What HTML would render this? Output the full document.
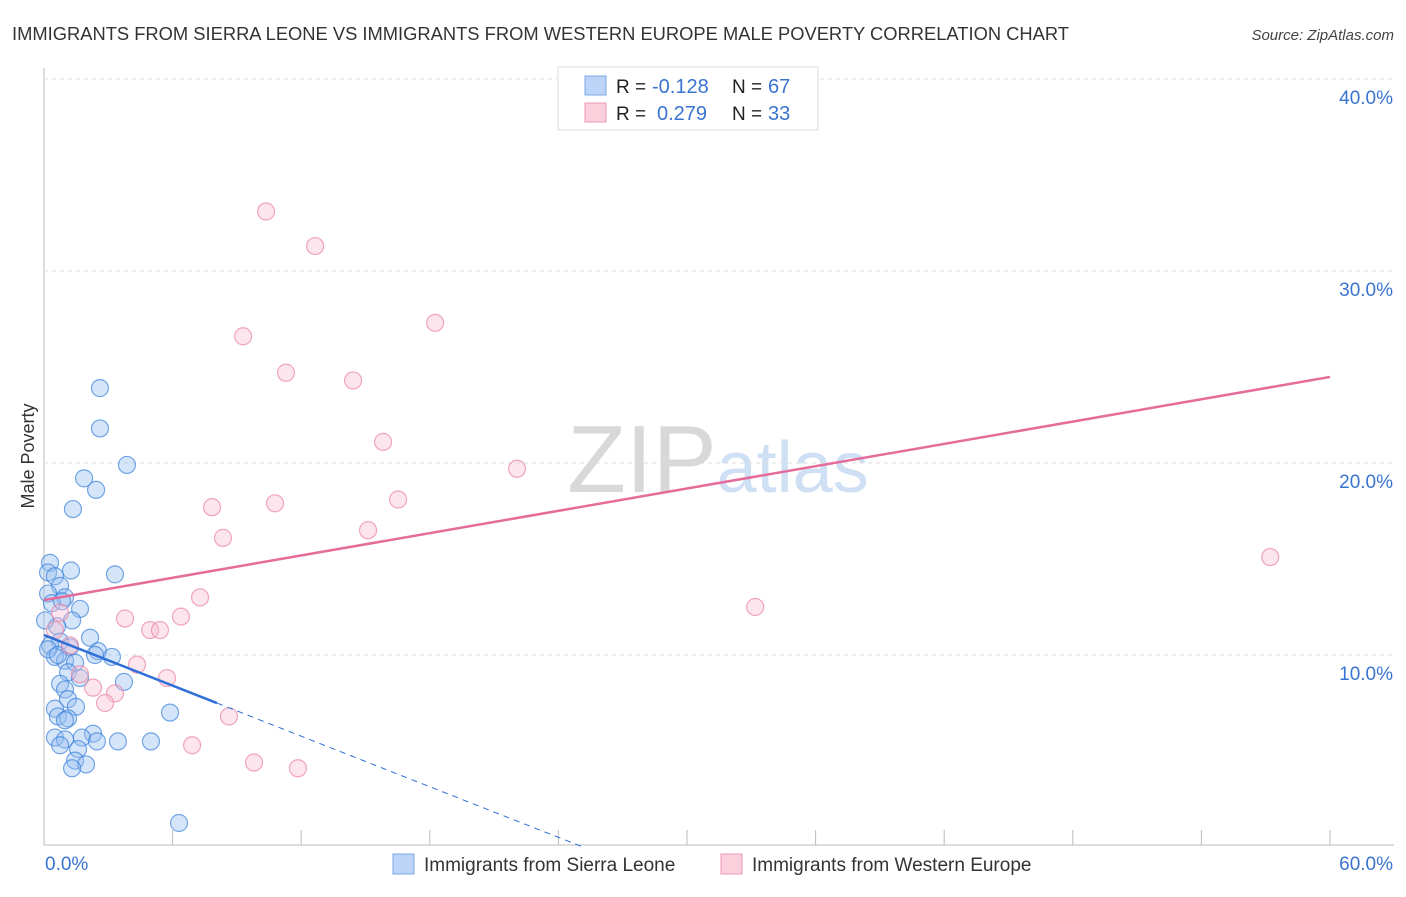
<!DOCTYPE html>
<html><head><meta charset="utf-8"><style>
body{margin:0;background:#fff;font-family:"Liberation Sans",sans-serif;}
svg text{font-family:"Liberation Sans",sans-serif;}
</style></head><body>
<svg id="chart" width="1406" height="892" xmlns="http://www.w3.org/2000/svg">
<text x="12" y="40" font-size="18" fill="#333" textLength="1057" lengthAdjust="spacingAndGlyphs">IMMIGRANTS FROM SIERRA LEONE VS IMMIGRANTS FROM WESTERN EUROPE MALE POVERTY CORRELATION CHART</text>
<text x="1394" y="40" font-size="15" fill="#444" text-anchor="end" font-style="italic">Source: ZipAtlas.com</text>
<text x="718" y="492" font-size="96" fill="#ddd" text-anchor="middle" font-family="Liberation Serif"><tspan fill="#d8d8d8">ZIP</tspan><tspan fill="#cfe0f4" font-family="Liberation Sans" font-size="72">atlas</tspan></text>
<text transform="translate(34,456) rotate(-90)" font-size="18" fill="#333" text-anchor="middle">Male Poverty</text>
<g id="grid"></g><g id="marks"></g>
<g>
<rect x="558" y="67" width="260" height="63" fill="#fff" stroke="#ddd"/>
<rect x="585" y="76" width="21" height="19" fill="#bcd4f5" stroke="#7aa7e6"/>
<rect x="585" y="103" width="21" height="19" fill="#fbd0dc" stroke="#ef9ab4"/>
<text x="616" y="93" font-size="19" fill="#222">R =</text>
<text x="652" y="93" font-size="20" fill="#3a74d0">-0.128</text>
<text x="732" y="93" font-size="19" fill="#222">N =</text>
<text x="768" y="93" font-size="20" fill="#3a74d0">67</text>
<text x="616" y="120" font-size="19" fill="#222">R =</text>
<text x="657" y="120" font-size="20" fill="#3a74d0">0.279</text>
<text x="732" y="120" font-size="19" fill="#222">N =</text>
<text x="768" y="120" font-size="20" fill="#3a74d0">33</text>
</g>
<g>
<rect x="393" y="854" width="21" height="20" fill="#bcd4f5" stroke="#7aa7e6"/>
<text x="424" y="871" font-size="19" fill="#333">Immigrants from Sierra Leone</text>
<rect x="721" y="854" width="21" height="20" fill="#fbd0dc" stroke="#ef9ab4"/>
<text x="752" y="871" font-size="19" fill="#333">Immigrants from Western Europe</text>
</g>
</svg>
<script>
const blueX=[2.61,2.61,3.87,1.87,2.43,1.35,0.28,0.19,1.26,3.31,0.51,0.75,0.19,0.98,1.68,0.37,1.31,0.61,2.15,0.75,0.28,1.21,2.52,3.17,0.51,0.98,1.45,1.12,1.68,3.73,0.75,0.98,1.12,1.49,0.51,5.88,0.65,1.12,0.98,2.29,1.77,0.51,0.98,2.47,3.45,4.99,0.75,1.59,1.45,1.96,1.31,6.30,0.19,0.65,0.05,0.84,2.38];
const blueY=[23.9,21.8,19.9,19.2,18.6,17.6,14.8,14.3,14.4,14.2,14.1,13.6,13.2,13.0,12.4,12.7,11.8,11.5,10.9,10.7,10.5,10.4,10.2,9.9,9.9,9.7,9.6,9.1,8.8,8.6,8.5,8.2,7.7,7.3,7.2,7.0,6.8,6.7,6.6,5.9,5.7,5.7,5.6,5.5,5.5,5.5,5.3,5.1,4.5,4.3,4.1,1.25,10.3,10.0,11.8,12.8,10.0];
const pinkX=[10.36,12.65,18.25,9.29,11.29,14.42,15.82,22.07,10.78,16.52,7.84,15.12,8.35,57.21,33.18,7.28,6.39,3.78,4.95,5.41,0.75,0.51,4.34,5.74,1.68,2.29,3.31,2.85,8.63,6.91,9.80,11.85,1.21];
const pinkY=[33.1,31.3,27.3,26.6,24.7,24.3,21.1,19.7,17.9,18.1,17.7,16.5,16.1,15.1,12.5,13.0,12.0,11.9,11.3,11.3,12.2,11.3,9.5,8.8,9.0,8.3,8.0,7.5,6.8,5.3,4.4,4.1,10.5];
const yTicks=[10,20,30,40];
const yTickLabels=["10.0%","20.0%","30.0%","40.0%"];
const xTicks=[6,12,18,24,30,36,42,48,54,60];
const blueTrend=[11.04,-0.439];
const pinkTrend=[12.86,0.1937];
const blueSolidEnd=8.07;
const NS="http://www.w3.org/2000/svg";
const sx=v=>44+v/60*1286, sy=v=>847-v*19.2;
const grid=document.getElementById('grid'), marks=document.getElementById('marks');
function mk(tag,attrs,parent){const e=document.createElementNS(NS,tag);for(const k in attrs)e.setAttribute(k,attrs[k]);parent.appendChild(e);return e;}
let e=mk('line',{x1:44,y1:68,x2:44,y2:845,stroke:'#bbb'},grid);


e=mk('line',{x1:44,y1:845,x2:1394,y2:845,stroke:'#bbb'},grid);


e=mk('line',{x1:44,y1:79,x2:1394,y2:79,stroke:'#ddd','stroke-dasharray':'4,4'},grid);


yTicks.forEach((t,i)=>{
 let g=mk('line',{x1:44,y1:sy(t),x2:1394,y2:sy(t),stroke:'#ddd','stroke-dasharray':'4,4'},grid);
 
 
 let l=mk('text',{x:1393,y:sy(t)+25,'font-size':19,fill:'#3a74d0','text-anchor':'end'},grid);
 l.textContent=yTickLabels[i];
 
 
});
xTicks.forEach(t=>{
 let g=mk('line',{x1:sx(t),y1:830,x2:sx(t),y2:845,stroke:'#bbb'},grid);
 
 
});
e=mk('text',{x:45,y:870,'font-size':19,fill:'#3a74d0'},grid);e.textContent='0.0%';


e=mk('text',{x:1393,y:870,'font-size':19,fill:'#3a74d0','text-anchor':'end'},grid);e.textContent='60.0%';


blueX.forEach((x,i)=>{
 let c=mk('circle',{cx:sx(x),cy:sy(blueY[i]),r:8.5,fill:'rgba(150,190,240,0.4)',stroke:'rgba(60,130,220,0.7)','stroke-width':1.2},marks);
 
 
});
pinkX.forEach((x,i)=>{
 let c=mk('circle',{cx:sx(x),cy:sy(pinkY[i]),r:8.5,fill:'rgba(248,190,208,0.4)',stroke:'rgba(235,130,165,0.7)','stroke-width':1.2},marks);
 
 
});
const zeroX=-blueTrend[0]/blueTrend[1];
e=mk('line',{x1:sx(0),y1:sy(blueTrend[0]),x2:sx(blueSolidEnd),y2:sy(blueTrend[0]+blueTrend[1]*blueSolidEnd),stroke:'#2f6fd6','stroke-width':2.5},marks);


e=mk('line',{x1:sx(blueSolidEnd),y1:sy(blueTrend[0]+blueTrend[1]*blueSolidEnd),x2:sx(zeroX),y2:sy(0),stroke:'#2f6fd6','stroke-width':1,'stroke-dasharray':'6,5'},marks);


e=mk('line',{x1:sx(0),y1:sy(pinkTrend[0]),x2:sx(60),y2:sy(pinkTrend[0]+pinkTrend[1]*60),stroke:'#e56c9a','stroke-width':2.5},marks);


</script>
</body></html>
